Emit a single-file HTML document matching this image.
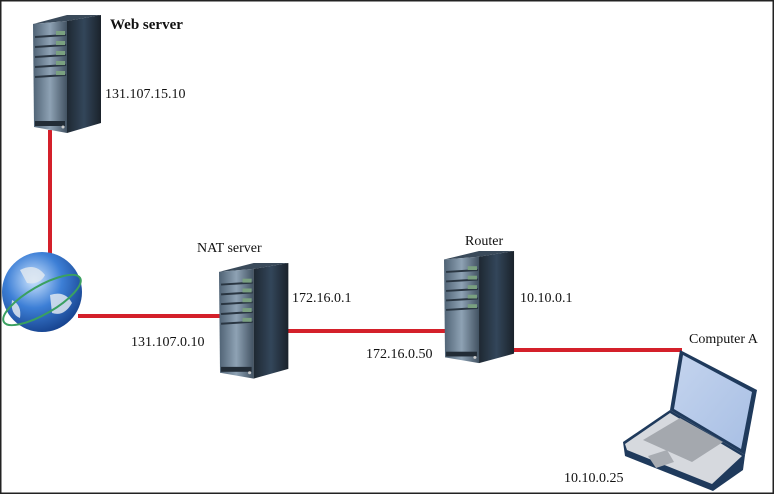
<!DOCTYPE html>
<html><head><style>
html,body{margin:0;padding:0;background:#fff}
svg{display:block}
text{font-family:"Liberation Serif",serif;font-size:14px;fill:#111}
</style></head><body>
<svg width="774" height="494" viewBox="0 0 774 494" xmlns="http://www.w3.org/2000/svg">
<defs>
<linearGradient id="fr" x1="0" x2="1"><stop offset="0" stop-color="#4f6274"/><stop offset="0.5" stop-color="#8ea2b4"/><stop offset="1" stop-color="#425262"/></linearGradient>
<linearGradient id="sd" x1="0" x2="1"><stop offset="0" stop-color="#1e2832"/><stop offset="0.5" stop-color="#33465a"/><stop offset="1" stop-color="#1a222b"/></linearGradient>
<radialGradient id="gl" cx="0.4" cy="0.35" r="0.7"><stop offset="0" stop-color="#cfe6ff"/><stop offset="0.5" stop-color="#3d7fd6"/><stop offset="1" stop-color="#143f8a"/></radialGradient>
<linearGradient id="scr" x1="0" y1="0" x2="1" y2="1"><stop offset="0" stop-color="#c4d4ee"/><stop offset="1" stop-color="#a8bfe4"/></linearGradient>
<g id="srv">
<polygon points="0,9 34,0 68,0 34,6" fill="#3a4a5a"/>
<polygon points="0,9 34,6 34,118 1,112" fill="url(#fr)"/>
<polygon points="34,6 68,0 68,108 34,118" fill="url(#sd)"/>
<g stroke="#2a3642" stroke-width="2">
<line x1="2" y1="22" x2="33" y2="20"/><line x1="2" y1="32" x2="33" y2="30"/><line x1="2" y1="42" x2="33" y2="40"/><line x1="2" y1="52" x2="33" y2="50"/><line x1="2" y1="62" x2="33" y2="60"/>
</g>
<g fill="#7aa080"><rect x="23" y="16" width="9" height="4"/><rect x="23" y="26" width="9" height="4"/><rect x="23" y="36" width="9" height="4"/><rect x="23" y="46" width="9" height="4"/><rect x="23" y="56" width="9" height="4"/></g>
<rect x="2" y="106" width="30" height="5" fill="#222c36"/>
<circle cx="30" cy="112" r="1.5" fill="#ccc"/>
</g>
</defs>
<rect x="0.5" y="0.5" width="773" height="493" fill="#fff" stroke="#222" stroke-width="2"/>
<g stroke="#d4202a" stroke-width="4">
<line x1="50" y1="130" x2="50" y2="255"/>
<line x1="78" y1="316" x2="222" y2="316"/>
<line x1="285" y1="331" x2="446" y2="331"/>
<line x1="510" y1="350" x2="682" y2="350"/>
</g>
<use href="#srv" transform="translate(33,15)"/>
<use href="#srv" transform="translate(219,263) scale(1.02,0.98)"/>
<use href="#srv" transform="translate(444,251) scale(1.03,0.95)"/>
<circle cx="42" cy="292" r="40" fill="url(#gl)"/>
<path d="M20 270 q15 -8 25 5 q-5 10 -18 8z M50 295 q15 -5 22 8 q-8 14 -20 10z M12 300 q10 5 8 18 q-10 -4 -8 -18z" fill="#dfe8f0" opacity="0.85"/>
<ellipse cx="42" cy="300" rx="44" ry="14" fill="none" stroke="#3aa060" stroke-width="2" transform="rotate(-30 42 300)"/>
<!-- laptop -->
<polygon points="623,442 670,410 745,455 743,470 713,491 625,456" fill="#1f3a5c"/>
<polygon points="625,444 670,413 742,456 712,484 627,450" fill="#d6d9de"/>
<polygon points="643,440 680,418 723,442 692,462" fill="#a4a8ae"/>
<polygon points="648,456 667,450 674,462 656,468" fill="#a8acb2"/>
<polygon points="680,350 757,390 745,455 670,410" fill="#1f3a5c"/>
<polygon points="683,355 752,392 741,449 674,409" fill="url(#scr)"/>
<text x="110" y="29" font-weight="bold" style="font-size:15px">Web server</text>
<text x="105" y="98">131.107.15.10</text>
<text x="197" y="252">NAT server</text>
<text x="292" y="302">172.16.0.1</text>
<text x="131" y="346">131.107.0.10</text>
<text x="465" y="245">Router</text>
<text x="520" y="302">10.10.0.1</text>
<text x="366" y="358">172.16.0.50</text>
<text x="689" y="343">Computer A</text>
<text x="564" y="482">10.10.0.25</text>
</svg>
</body></html>
